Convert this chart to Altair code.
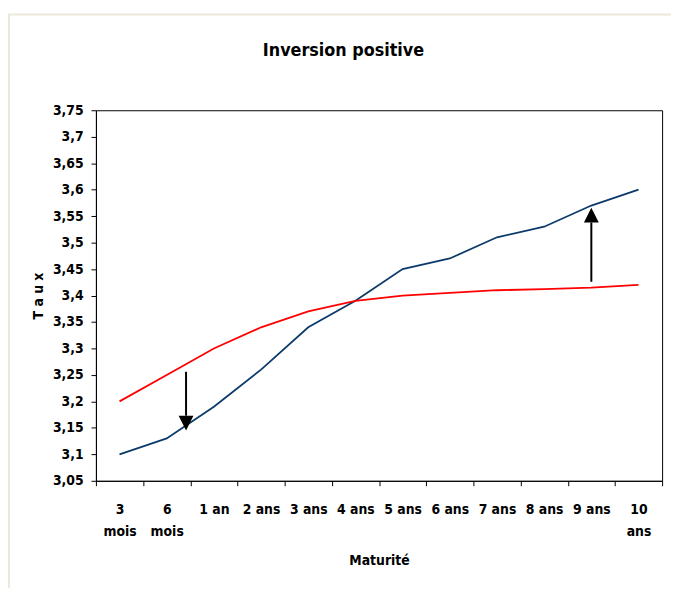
import altair as alt
import pandas as pd

# ---- data ----
maturites = ["3 mois", "6 mois", "1 an", "2 ans", "3 ans", "4 ans", "5 ans",
             "6 ans", "7 ans", "8 ans", "9 ans", "10 ans"]
taux_bleu = [3.10, 3.13, 3.19, 3.26, 3.34, 3.39, 3.45, 3.47, 3.51, 3.53, 3.57, 3.60]
taux_rouge = [3.20, 3.25, 3.30, 3.34, 3.37, 3.39, 3.40, 3.405, 3.41, 3.412, 3.415, 3.42]
y_ticks = [3.05, 3.10, 3.15, 3.20, 3.25, 3.30, 3.35, 3.40, 3.45, 3.50,
           3.55, 3.60, 3.65, 3.70, 3.75]
wrapped = ["3 mois", "6 mois", "10 ans"]

# arrows (in data units: category index, rate)
arrow_pos = [1.41, 10.0]
arrow_start = [3.256, 3.426]
arrow_end = [3.173, 3.538]
arrow_head = [3.159, 3.552]
arrow_dir = ["bas", "haut"]

FONT = "'DejaVu Sans Condensed', 'DejaVu Sans', sans-serif"

rows = []
for m, b, r in zip(maturites, taux_bleu, taux_rouge):
    rows.append({"maturite": m, "taux": b, "serie": "bleu"})
    rows.append({"maturite": m, "taux": r, "serie": "rouge"})
df = pd.DataFrame(rows)

arrows = pd.DataFrame({"pos": arrow_pos, "start": arrow_start, "end": arrow_end,
                       "head": arrow_head, "dir": arrow_dir})

wrap_list = "[" + ",".join("'" + w + "'" for w in wrapped) + "]"

y_scale = alt.Scale(domain=[3.05, 3.75], nice=False, zero=False)
y_axis = alt.Axis(title="T a u x", values=y_ticks,
                  labelExpr="replace(format(datum.value, '.2~f'), '.', ',')",
                  labelPadding=8, titleBaseline="middle", titleX=-58,
                  labelOverlap=False)

lines = alt.Chart(df).mark_line(strokeWidth=1.8).encode(
    x=alt.X("maturite:N", sort=maturites, bandPosition=0.5,
            scale=alt.Scale(type="band", paddingInner=0, paddingOuter=0),
            axis=alt.Axis(title="Maturité", labelAngle=0, tickBand="extent",
                          labelExpr=f"indexof({wrap_list}, datum.label) >= 0 ? split(datum.label, ' ') : datum.label",
                          labelLineHeight=22, labelPadding=17, labelBaseline="top",
                          titleBaseline="middle", titleY=81)),
    y=alt.Y("taux:Q", scale=y_scale, axis=y_axis),
    color=alt.Color("serie:N", scale=alt.Scale(domain=["bleu", "rouge"],
                                               range=["#0b3a6b", "#ff0000"]),
                    legend=None),
)

frame = alt.Chart(pd.DataFrame({"a": [0]})).mark_rect(
    fill=None, stroke="#ECE9D8", strokeWidth=2).encode(
    x=alt.value(-88), y=alt.value(-97), x2=alt.value(700), y2=alt.value(600))

x_arrow = alt.Scale(domain=[-0.5, 11.5], nice=False, zero=False)

shafts = alt.Chart(arrows).mark_rule(color="black", strokeWidth=2).encode(
    x=alt.X("pos:Q", scale=x_arrow, axis=None),
    y=alt.Y("start:Q", scale=y_scale, axis=y_axis),
    y2="end:Q",
)

head_down = alt.Chart(arrows).transform_filter("datum.dir == 'bas'").mark_point(
    shape="M-1,-1L1,-1L0,1Z", filled=True, color="black", opacity=1, size=225).encode(
    x=alt.X("pos:Q", scale=x_arrow, axis=None),
    y=alt.Y("head:Q", scale=y_scale, axis=y_axis),
)
head_up = alt.Chart(arrows).transform_filter("datum.dir == 'haut'").mark_point(
    shape="M-1,1L1,1L0,-1Z", filled=True, color="black", opacity=1, size=225).encode(
    x=alt.X("pos:Q", scale=x_arrow, axis=None),
    y=alt.Y("head:Q", scale=y_scale, axis=y_axis),
)

arrow_layer = alt.layer(shafts, head_down, head_up)

chart = alt.layer(lines, arrow_layer, frame).resolve_scale(x="independent").properties(
    width=573, height=375,
    background="white",
    padding={"left": 89, "top": 100, "right": 9, "bottom": 105},
    autosize=alt.AutoSizeParams(type="none"),
    title=alt.TitleParams("Inversion positive", font=FONT, fontSize=18,
                          fontWeight="bold", anchor="middle", frame="group",
                          dx=-36, dy=95, offset=48, color="black"),
).configure_view(stroke="black", strokeWidth=1).configure_axis(
    labelFont=FONT, labelFontSize=14, labelFontWeight="bold", labelColor="black",
    titleFont=FONT, titleFontSize=14, titleFontWeight="bold", titleColor="black",
    domainColor="black", tickColor="black", tickSize=5, grid=False,
)

chart.save("out.html", embed_options={"renderer": "svg", "actions": False})
